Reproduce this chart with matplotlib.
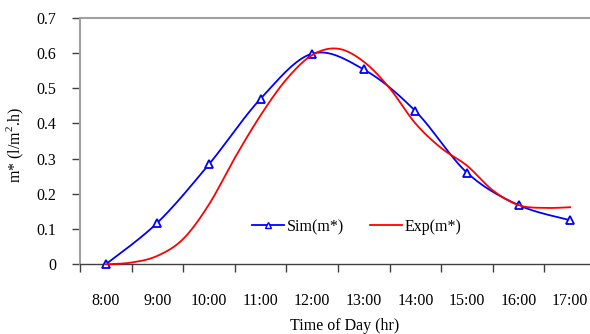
import numpy as np
import matplotlib
matplotlib.use("Agg")
import matplotlib.pyplot as plt

plt.rcParams['font.family'] = ['Liberation Serif', 'DejaVu Serif']
plt.rcParams['mathtext.fontset'] = 'custom'
plt.rcParams['mathtext.rm'] = 'Liberation Serif'

times = ["8:00", "9:00", "10:00", "11:00", "12:00", "13:00", "14:00", "15:00", "16:00", "17:00"]
sim = [0.0, 0.118, 0.284, 0.47, 0.598, 0.553, 0.435, 0.26, 0.168, 0.125]
# experimental curve, read every half hour
exp_pos = [0, 0.5, 1, 1.5, 2, 2.5, 3, 3.5, 4, 4.5, 5, 5.5, 6, 6.5, 7, 7.5, 8, 8.5, 9]
exp = [0.0, 0.005, 0.024, 0.072, 0.17, 0.302, 0.423, 0.525, 0.594, 0.612, 0.575,
       0.5, 0.4, 0.33, 0.28, 0.21, 0.168, 0.16, 0.162]


def smooth(x, y, n=20):
    # excel-like smoothed line (catmull-rom bezier through the points)
    x = np.asarray(x, float)
    y = np.asarray(y, float)
    px = np.concatenate([[x[0]], x, [x[-1]]])
    py = np.concatenate([[y[0]], y, [y[-1]]])
    xs, ys = [], []
    t = np.linspace(0, 1, n)
    for i in range(1, len(px) - 2):
        p0 = np.array([px[i], py[i]])
        p3 = np.array([px[i + 1], py[i + 1]])
        c1 = p0 + (np.array([px[i + 1], py[i + 1]]) - np.array([px[i - 1], py[i - 1]])) / 6
        c2 = p3 - (np.array([px[i + 2], py[i + 2]]) - np.array([px[i], py[i]])) / 6
        b = ((1 - t) ** 3)[:, None] * p0 + (3 * (1 - t) ** 2 * t)[:, None] * c1 \
            + (3 * (1 - t) * t ** 2)[:, None] * c2 + (t ** 3)[:, None] * p3
        xs.extend(b[:, 0])
        ys.extend(np.maximum(b[:, 1], 0))
    return xs, ys


fig = plt.figure(figsize=(5.9, 3.34), dpi=100)
ax = fig.add_axes([80 / 590, 69.7 / 334, 516 / 590, 246.6 / 334])

idx = np.arange(len(times))
sx, sy = smooth(idx, sim)
ax.plot(sx, sy, color='#0000ff', lw=1.3, zorder=3, clip_on=False)
ax.plot(idx, sim, ls='none', marker='^', ms=6, mfc='white', mec='#0000ff', mew=1.3, zorder=3,
        clip_on=False)
ax.plot([], [], color='#0000ff', lw=1.3, marker='^', ms=5, mfc='white', mec='#0000ff', label='Sim(m*)')
ex, ey = smooth(exp_pos, exp)
ax.plot(ex, ey, color='#ff0000', lw=1.3, zorder=4, label='Exp(m*)', clip_on=False)

ax.set_xlim(-0.5, 9.5)
ax.set_ylim(0, 0.7)
ax.set_yticks(np.arange(0, 0.71, 0.1))
ax.set_yticklabels(["0", "0.1", "0.2", "0.3", "0.4", "0.5", "0.6", "0.7"])
ax.set_xticks(np.arange(-0.5, 9.6, 1))
ax.set_xticklabels([])
ax.set_xticks(idx, minor=True)
ax.set_xticklabels(times, minor=True)

fs = 11.5
ax.tick_params(axis='both', which='major', direction='out', length=5.8, width=1, color='#404040')
ax.tick_params(axis='y', labelsize=fs, pad=11.5)
ax.tick_params(axis='x', which='minor', length=0, labelsize=fs, pad=21)

for s in ['left', 'top']:
    ax.spines[s].set_color('#a0a0a0')
    ax.spines[s].set_linewidth(1.5)
ax.spines['right'].set_visible(False)
ax.spines['bottom'].set_color('#404040')
ax.spines['bottom'].set_linewidth(1)
ax.xaxis.get_major_ticks()[0].tick1line.set_color('#a0a0a0')
ax.yaxis.get_major_ticks()[-1].tick1line.set_color('#a0a0a0')

ax.legend(loc='center left', bbox_to_anchor=(0.333, 0.151), ncol=2, frameon=False,
          fontsize=fs, handlelength=2.0, handletextpad=0.2, columnspacing=1.6,
          borderpad=0, borderaxespad=0)

fig.text(345 / 590, 1 - 326 / 334, "Time of Day (hr)", ha='center', va='center', fontsize=fs)
fig.text(15 / 590, 1 - 145 / 334, r"m* (l/m$^{2}$.h)", ha='center', va='center',
         rotation=90, fontsize=fs)

fig.savefig("out.png", dpi=100)
